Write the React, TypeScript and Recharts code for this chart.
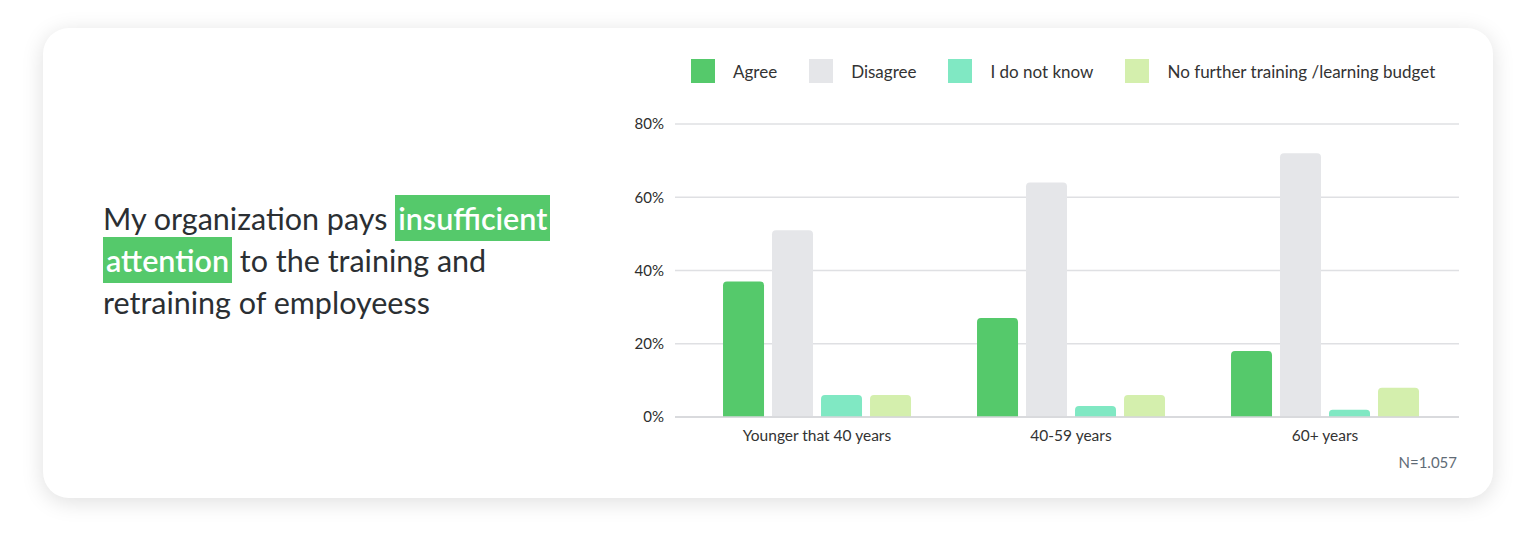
import { Bar, BarChart, CartesianGrid, XAxis, YAxis } from "recharts";

const categories = ["Younger that 40 years", "40-59 years", "60+ years"];
const agree = [37, 27, 18];
const disagree = [51, 64, 72];
const dontKnow = [6, 3, 2];
const noBudget = [6, 6, 8];
const yTicks = [0, 20, 40, 60, 80];

const series = [
  { key: "agree", name: "Agree", color: "#55c96b", values: agree },
  { key: "disagree", name: "Disagree", color: "#e5e6e9", values: disagree },
  { key: "dontKnow", name: "I do not know", color: "#80e8c3", values: dontKnow },
  { key: "noBudget", name: "No further training /learning budget", color: "#d4efad", values: noBudget },
];

const data = categories.map((name, i) => {
  const row: Record<string, string | number> = { name };
  series.forEach((s) => (row[s.key] = s.values[i]));
  return row;
});

const font = "Lato, 'Noto Sans', sans-serif";

const mark = {
  background: "#55c96b",
  color: "#fff",
  fontWeight: 600,
  padding: "0 3px",
  boxShadow: "0 -5px 0 #55c96b, 0 5px 0 #55c96b",
};

export default function App() {
  return (
    <div style={{ position: "relative", width: 1536, height: 537, background: "#fff", fontFamily: font }}>
      <style>{"body{margin:0}"}</style>
      <div
        style={{
          position: "absolute",
          left: 43,
          top: 28,
          width: 1450,
          height: 470,
          borderRadius: 26,
          background: "#fff",
          boxShadow: "0 4px 22px rgba(0,0,0,0.13)",
        }}
      />

      <div
        style={{
          position: "absolute",
          left: 103,
          top: 197,
          width: 475,
          fontSize: 30.5,
          lineHeight: "42px",
          color: "#2b2f33",
        }}
      >
        My organization pays <span style={mark}>insufficient</span> <span style={mark}>attention</span> to the
        training and retraining of employeess
      </div>

      {/* legend */}
      <div style={{ position: "absolute", left: 691, top: 59, display: "flex", alignItems: "center", height: 24 }}>
        {series.map((s) => (
          <div key={s.key} style={{ display: "flex", alignItems: "center", marginRight: 32 }}>
            <div style={{ width: 24, height: 24, background: s.color, marginRight: 18 }} />
            <span style={{ fontSize: 17, color: "#333" }}>{s.name}</span>
          </div>
        ))}
      </div>

      <div style={{ position: "absolute", left: 600, top: 100 }}>
        <BarChart
          width={880}
          height={360}
          data={data}
          margin={{ top: 24, right: 21, left: 0, bottom: 13 }}
          barCategoryGap="13%"
          barGap={8}
        >
          <CartesianGrid vertical={false} stroke="#dfe0e3" strokeWidth={1.5} />
          <XAxis
            dataKey="name"
            tickLine={false}
            axisLine={{ stroke: "#d4d6d9", strokeWidth: 1.5 }}
            tickMargin={7}
            height={30}
            padding={{ left: 15, right: 7 }}
            tick={{ fill: "#333", fontSize: 15.5, fontFamily: font }}
          />
          <YAxis
            width={75}
            domain={[0, 80]}
            ticks={yTicks}
            tickFormatter={(v) => `${v}%`}
            tickLine={false}
            axisLine={false}
            tickMargin={5}
            tick={{ fill: "#2d2d2d", fontSize: 15, fontFamily: font }}
          />
          {series.map((s) => (
            <Bar key={s.key} dataKey={s.key} name={s.name} fill={s.color} radius={[4, 4, 0, 0]} isAnimationActive={false} />
          ))}
        </BarChart>
      </div>

      <div style={{ position: "absolute", right: 1536 - 1457, top: 453, fontSize: 15, color: "#5f6b76" }}>N=1.057</div>
    </div>
  );
}
